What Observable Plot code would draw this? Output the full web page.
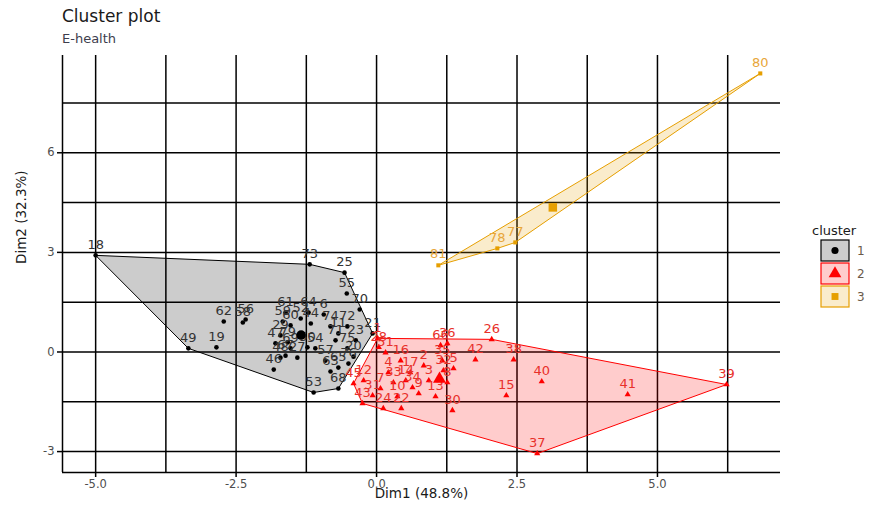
<!DOCTYPE html>
<html>
<head>
<meta charset="utf-8">
<script src="https://cdn.jsdelivr.net/npm/d3@7"></script>
<script src="https://cdn.jsdelivr.net/npm/@observablehq/plot@0.6"></script>
<style>
  body { margin: 0; background: #fff; }
  #wrap { position: relative; width: 880px; height: 506px; font-family: "DejaVu Sans", sans-serif; overflow: hidden; }
  #title { position: absolute; left: 62px; top: 6px; font-size: 17px; color: #1a1a1a; white-space: nowrap; }
  #subtitle { position: absolute; left: 62px; top: 31px; font-size: 13px; color: #3d3d4d; white-space: nowrap; }
  #chart { position: absolute; left: 0; top: 50px; }
  #legend { position: absolute; left: 808px; top: 218px; }
</style>
</head>
<body>
<div id="wrap">
  <div id="title">Cluster plot</div>
  <div id="subtitle">E-health</div>
  <div id="chart"></div>
  <div id="legend"></div>
</div>
<script>
// ---- data ----
const clusterIds = ["1", "2", "3"];

const ids1 = [18,73,25,55,70,72,21,62,58,56,49,19,46,53,68,59,29,52,64,6,44,11,74,23,20,65,63,76,57,27,48,47,50,54,60,61,71,75,79,69,67];
const dim1_1 = [-5.00,-1.19,-0.57,-0.53,-0.30,-0.52,-0.07,-2.72,-2.38,-2.33,-3.35,-2.85,-1.83,-1.12,-0.68,-1.67,-1.71,-1.35,-1.21,-0.94,-1.17,-0.68,-0.82,-0.37,-0.41,-0.68,-0.82,-0.50,-0.91,-1.41,-1.71,-1.80,-1.23,-1.09,-1.53,-1.62,-0.73,-0.52,-1.58,-1.53,-1.62];
const dim2_1 = [2.91,2.64,2.39,1.76,1.28,0.77,0.56,0.92,0.89,0.98,0.11,0.14,-0.53,-1.22,-1.10,0.92,0.50,1.01,1.19,1.13,0.86,0.56,0.77,0.35,-0.14,-0.47,-0.59,-0.35,-0.26,-0.17,-0.17,0.26,0.14,0.11,0.80,1.19,0.35,0.11,0.29,0.11,-0.11];

const ids2 = [26,38,42,40,15,41,39,37,30,28,36,1,45,43,31,24,22,5,33,34,9,13,10,12,16,17,35,32,2,3,8,51,66,4,7,14];
const dim1_2 = [2.05,2.44,1.76,2.94,2.31,4.47,6.23,2.86,1.35,0.04,1.26,0.02,-0.41,-0.25,-0.07,0.12,0.44,1.37,0.30,0.64,0.75,1.05,0.37,-0.23,0.43,0.60,1.17,1.19,0.84,0.93,1.26,0.16,1.14,0.21,0.07,0.52];
const dim2_2 = [0.38,-0.23,-0.23,-0.89,-1.31,-1.28,-0.98,-3.06,-1.76,0.14,0.26,0.41,-0.95,-1.55,-1.31,-1.70,-1.70,-0.50,-0.92,-1.07,-1.25,-1.34,-1.34,-0.86,-0.26,-0.62,-0.26,-0.56,-0.41,-0.86,-0.92,-0.02,0.20,-0.62,-1.10,-0.86];

const ids3 = [81,78,77,80];
const dim1_3 = [1.10,2.15,2.47,6.83];
const dim2_3 = [2.61,3.12,3.30,8.39];

const xTicks = [-5, -2.5, 0, 2.5, 5];
const yTicks = [-3, 0, 3, 6];
const xGrid = [-5, -3.75, -2.5, -1.25, 0, 1.25, 2.5, 3.75, 5, 6.25];
const yGrid = [-3, -1.5, 0, 1.5, 3, 4.5, 6, 7.5];
const xDomain = [-5.59, 7.19];
const yDomain = [-3.63, 8.93];

const xLabel = "Dim1 (48.8%)";
const yLabel = "Dim2 (32.3%)";

// ---- styling ----
const colors = ["#000000", "#FF0000", "#E69F00"];
const labelColors = ["#333333", "#E8302A", "#E8A63A"];
const symbols = ["circle", "triangle", "square"];

// ---- build table ----
const rows = [];
[[ids1, dim1_1, dim2_1], [ids2, dim1_2, dim2_2], [ids3, dim1_3, dim2_3]].forEach(([ids, xs, ys], k) => {
  ids.forEach((id, i) => rows.push({ id: String(id), x: xs[i], y: ys[i], cluster: clusterIds[k] }));
});
const centers = clusterIds.map(c => {
  const r = rows.filter(d => d.cluster === c);
  return { cluster: c, x: d3.mean(r, d => d.x), y: d3.mean(r, d => d.y) };
});

const marks = [
  Plot.ruleX(xGrid, { stroke: "black", strokeWidth: 1.5 }),
  Plot.ruleY(yGrid, { stroke: "black", strokeWidth: 1.5 }),
  Plot.ruleX([xDomain[0]], { stroke: "black", strokeWidth: 1.5 }),
  Plot.ruleY([yDomain[0]], { stroke: "black", strokeWidth: 1.5 })
];

clusterIds.forEach((c, k) => {
  const sub = rows.filter(d => d.cluster === c);
  marks.push(
    Plot.hull(sub, { x: "x", y: "y", fill: colors[k], fillOpacity: 0.2, stroke: colors[k], strokeWidth: 1 })
  );
});
clusterIds.forEach((c, k) => {
  const sub = rows.filter(d => d.cluster === c);
  marks.push(
    Plot.dot(sub, { x: "x", y: "y", symbol: symbols[k], fill: colors[k], r: 2.3 }),
    Plot.text(sub, { x: "x", y: "y", text: "id", fill: labelColors[k], dy: -11, fontSize: 13 }),
    Plot.dot(centers.filter(d => d.cluster === c), { x: "x", y: "y", symbol: symbols[k], fill: colors[k], r: 4.8 })
  );
});

marks.push(
  Plot.axisX(xTicks, { tickSize: 5, tickPadding: 2, fontSize: 11.5, fill: "#4d4d4d", stroke: "black", strokeWidth: 1.5, tickFormat: d => d.toFixed(1), label: null }),
  Plot.axisY(yTicks, { tickSize: 5, tickPadding: 3, fontSize: 11.5, fill: "#4d4d4d", stroke: "black", strokeWidth: 1.5, tickFormat: d => String(d), label: null }),
  Plot.text([xLabel], { frameAnchor: "bottom", dy: 25, fontSize: 13.5, fill: "#1a1a1a" }),
  Plot.text([yLabel], { frameAnchor: "left", rotate: -90, dx: -41, fontSize: 13.5, fill: "#1a1a1a" })
);

const chart = Plot.plot({
  width: 880,
  height: 456,
  marginLeft: 62,
  marginRight: 100,
  marginTop: 5,
  marginBottom: 34,
  x: { domain: xDomain },
  y: { domain: yDomain },
  style: { fontFamily: "DejaVu Sans, sans-serif", background: "white", overflow: "visible" },
  marks
});
document.getElementById("chart").appendChild(chart);

// ---- legend ----
const leg = d3.select("#legend").append("svg").attr("width", 72).attr("height", 100)
  .style("font-family", "DejaVu Sans, sans-serif");
leg.append("text").attr("x", 4).attr("y", 17).attr("font-size", 13).attr("fill", "#1a1a1a").text("cluster");
const symTypes = [d3.symbolCircle, d3.symbolTriangle, d3.symbolSquare];
const symSizes = [40, 70, 48];
clusterIds.forEach((c, k) => {
  const y0 = 22 + k * 23;
  leg.append("rect").attr("x", 13).attr("y", y0).attr("width", 28).attr("height", 21)
    .attr("fill", colors[k]).attr("fill-opacity", 0.2).attr("stroke", colors[k]).attr("stroke-width", 1.2);
  leg.append("path").attr("d", d3.symbol(symTypes[k], symSizes[k])())
    .attr("transform", `translate(27,${y0 + 10.5})`).attr("fill", colors[k]);
  leg.append("text").attr("x", 49).attr("y", y0 + 15).attr("font-size", 12).attr("fill", "#6b5a4a").text(c);
});
</script>
</body>
</html>
